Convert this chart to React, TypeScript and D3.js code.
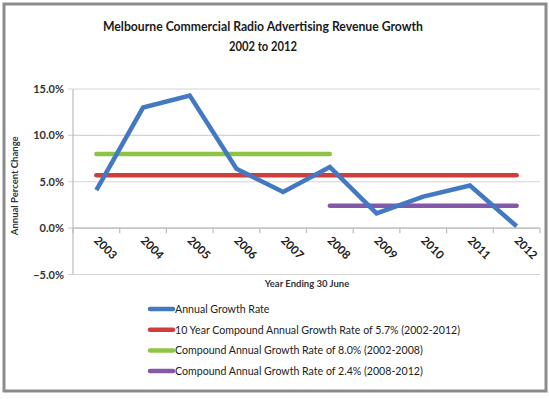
import React, { useEffect, useRef } from "react";
import * as d3 from "d3";

const years = ["2003", "2004", "2005", "2006", "2007", "2008", "2009", "2010", "2011", "2012"];
const growthRate = [4.1, 13.0, 14.3, 6.4, 3.9, 6.6, 1.6, 3.4, 4.6, 0.2];
const cagr10 = { label: "10 Year Compound Annual Growth Rate of 5.7% (2002-2012)", value: 5.7, from: "2003", to: "2012" };
const cagrEarly = { label: "Compound Annual Growth Rate of 8.0% (2002-2008)", value: 8.0, from: "2003", to: "2008" };
const cagrLate = { label: "Compound Annual Growth Rate of 2.4% (2008-2012)", value: 2.4, from: "2008", to: "2012" };
const yTicks = [-5, 0, 5, 10, 15];

const BLUE = "#4279c2";
const RED = "#cf3d3d";
const GREEN = "#8dc443";
const PURPLE = "#8458a8";

const FONT = "Lato, 'Open Sans', sans-serif";

export default function App() {
  const ref = useRef<SVGSVGElement | null>(null);

  useEffect(() => {
    const W = 549, H = 399;
    const svg = d3.select(ref.current);
    svg.selectAll("*").remove();
    svg.attr("width", W).attr("height", H);

    svg.append("rect").attr("width", W).attr("height", H).attr("fill", "#fff");
    // outer frame
    svg.append("rect")
      .attr("x", 4).attr("y", 4).attr("width", 542).attr("height", 387)
      .attr("fill", "none").attr("stroke", "#8c8c8c").attr("stroke-width", 3);

    const left = 73, right = 540, top = 89, bottom = 274.5;

    const x = d3.scaleBand<string>().domain(years).range([left, right]);
    const y = d3.scaleLinear().domain([-5, 15]).range([bottom, top]);
    const cx = (d: string) => (x(d) as number) + x.bandwidth() / 2;

    // title
    svg.append("text")
      .attr("x", 263).attr("y", 31).attr("text-anchor", "middle")
      .attr("font-family", FONT).attr("font-size", 13.5).attr("font-weight", 700).attr("fill", "#1a1a1a")
      .attr("textLength", 320).attr("lengthAdjust", "spacingAndGlyphs")
      .text("Melbourne Commercial Radio Advertising Revenue Growth");
    svg.append("text")
      .attr("x", 263).attr("y", 51).attr("text-anchor", "middle")
      .attr("font-family", FONT).attr("font-size", 13.5).attr("font-weight", 700).attr("fill", "#1a1a1a")
      .attr("textLength", 68).attr("lengthAdjust", "spacingAndGlyphs")
      .text("2002 to 2012");

    // gridlines
    svg.append("g").selectAll("line").data(yTicks).join("line")
      .attr("x1", left - 5).attr("x2", right)
      .attr("y1", (d) => y(d)).attr("y2", (d) => y(d))
      .attr("stroke", "#d3d3d3").attr("stroke-width", 1.2);

    // y axis
    svg.append("line").attr("x1", left).attr("x2", left).attr("y1", top).attr("y2", bottom)
      .attr("stroke", "#bdbdbd").attr("stroke-width", 1.2);

    svg.append("g").selectAll("text").data(yTicks).join("text")
      .attr("x", left - 9).attr("y", (d) => y(d) + 4)
      .attr("text-anchor", "end")
      .attr("font-family", FONT).attr("font-size", 11).attr("font-weight", 700).attr("fill", "#333")
      .text((d) => d3.format(".1f")(d) + "%");

    // x axis at 0
    svg.append("line").attr("x1", left).attr("x2", right).attr("y1", y(0)).attr("y2", y(0))
      .attr("stroke", "#bdbdbd").attr("stroke-width", 1.2);
    const bounds = years.map((d) => x(d) as number).concat([right]);
    svg.append("g").selectAll("line").data(bounds).join("line")
      .attr("x1", (d) => d).attr("x2", (d) => d)
      .attr("y1", y(0)).attr("y2", y(0) + 5)
      .attr("stroke", "#bdbdbd").attr("stroke-width", 1.2);

    svg.append("g").selectAll("text").data(years).join("text")
      .attr("transform", (d) => `translate(${cx(d) - 3},${y(0) + 13}) rotate(45)`)
      .attr("font-family", FONT).attr("font-size", 11.5).attr("font-weight", 700).attr("fill", "#222")
      .text((d) => d);

    // axis titles
    svg.append("text")
      .attr("transform", `translate(18,${(y(15) + y(-5)) / 2 + 4}) rotate(-90)`)
      .attr("text-anchor", "middle")
      .attr("font-family", FONT).attr("font-size", 9.5).attr("font-weight", 700).attr("fill", "#333")
      .text("Annual Percent Change");
    svg.append("text")
      .attr("x", 307).attr("y", 287).attr("text-anchor", "middle")
      .attr("font-family", FONT).attr("font-size", 9.5).attr("font-weight", 700).attr("fill", "#333")
      .text("Year Ending 30 June");

    // reference lines
    const refs = [
      { ...cagr10, color: RED },
      { ...cagrEarly, color: GREEN },
      { ...cagrLate, color: PURPLE },
    ];
    svg.append("g").selectAll("line").data(refs).join("line")
      .attr("x1", (d) => cx(d.from)).attr("x2", (d) => cx(d.to))
      .attr("y1", (d) => y(d.value)).attr("y2", (d) => y(d.value))
      .attr("stroke", (d) => d.color).attr("stroke-width", 4.5).attr("stroke-linecap", "round");

    // growth line
    const line = d3.line<number>().x((_, i) => cx(years[i])).y((d) => y(d));
    svg.append("path").datum(growthRate)
      .attr("d", line).attr("fill", "none")
      .attr("stroke", BLUE).attr("stroke-width", 4.5).attr("stroke-linejoin", "miter");

    // legend
    const legend = [
      { label: "Annual Growth Rate", color: BLUE },
      { label: cagr10.label, color: RED },
      { label: cagrEarly.label, color: GREEN },
      { label: cagrLate.label, color: PURPLE },
    ];
    const lg = svg.append("g").selectAll("g").data(legend).join("g")
      .attr("transform", (_, i) => `translate(150,${309 + i * 20.7})`);
    lg.append("line").attr("x1", 0).attr("x2", 23).attr("y1", 0).attr("y2", 0)
      .attr("stroke", (d) => d.color).attr("stroke-width", 4.5).attr("stroke-linecap", "round");
    lg.append("text").attr("x", 25).attr("y", 4)
      .attr("font-family", FONT).attr("font-size", 10.6).attr("fill", "#222")
      .text((d) => d.label);
  }, []);

  return (
    <svg ref={ref} style={{ position: "absolute", left: 0, top: 0, display: "block" }} />
  );
}
